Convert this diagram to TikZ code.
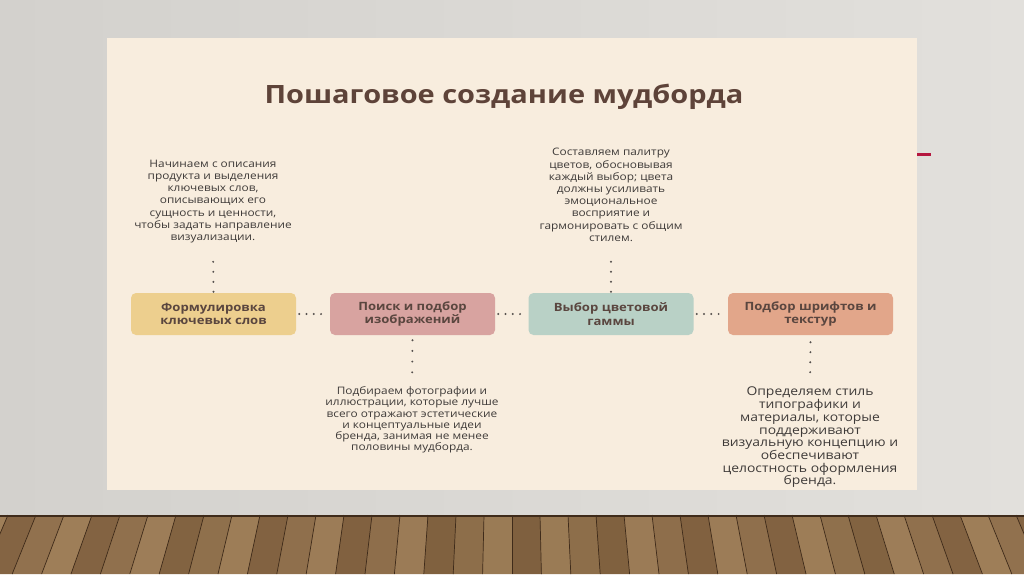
\documentclass[tikz,border=0pt]{standalone}
\usepackage{fontspec}
\setmainfont{Open Sans}[FakeStretch=1.15]
\usetikzlibrary{positioning}
\definecolor{bgleft}{HTML}{D3D1CD}
\definecolor{bgright}{HTML}{E2E0DC}
\definecolor{panel}{HTML}{F8EDDE}
\definecolor{accent}{HTML}{B5173F}
\definecolor{titlebrown}{HTML}{5E4339}
\definecolor{boxtext}{HTML}{5A463F}
\definecolor{notetext}{HTML}{3E3A38}
\definecolor{dotgray}{HTML}{55504D}
\definecolor{step1}{HTML}{EDCF8E}
\definecolor{step2}{HTML}{D8A3A0}
\definecolor{step3}{HTML}{B9D1C6}
\definecolor{step4}{HTML}{E2A68A}
\definecolor{woodlight}{HTML}{AE8E66}
\definecolor{wooddark}{HTML}{654629}
\definecolor{woodline}{HTML}{3F2B1A}

\begin{document}
\begin{tikzpicture}[x=1pt,y=-1pt,
  stepbox/.style={rounded corners=5pt, minimum width=165pt, minimum height=42pt,
    inner sep=0pt, align=center, text=boxtext, font=\bfseries\fontsize{11.4}{13.6}\selectfont},
  note/.style={align=center, inner sep=0pt, text=notetext, font=\fontsize{10.3}{12.2}\selectfont},
  dotline/.style={draw=dotgray, line width=2.2pt, line cap=round, dash pattern=on 0pt off 7.3pt},
  vdotline/.style={dotline, dash pattern=on 0pt off 10pt}]
\useasboundingbox (0,0) rectangle (1024,574);

% Wall and slide
\shade[left color=bgleft, right color=bgright] (0,0) rectangle (1024,516);
\fill[panel] (107,38) rectangle (917,490);
\fill[accent] (917,153) rectangle (931,155.5);

% Floor planks
\fill[wooddark] (0,515) rectangle (1024,574);
\foreach \k in {-20,...,19}{
  \pgfmathtruncatemacro\mix{mod(abs(\k)*37+11,55)+25}
  \fill[woodlight!\mix!wooddark] ({512+\k*28},515) -- ({512+(\k+1)*28},515)
    -- ({512+(\k+1)*28*1.05},574) -- ({512+\k*28*1.05},574) -- cycle;
  \draw[woodline, line width=0.7pt] ({512+\k*28},515) -- ({512+\k*28*1.05},574);
}
\draw[woodline, line width=2pt] (0,516) -- (1024,516);

% Title
\node[text=titlebrown, font=\bfseries\fontsize{25.2}{30}\selectfont] (title) at (504,97)
  {Пошаговое создание мудборда};

% Steps
\node[stepbox, fill=step1] (formul) at (213.5,314) {Формулировка\\ключевых слов};
\node[stepbox, fill=step2] (poisk) at (412.5,314) {Поиск и подбор\\изображений};
\node[stepbox, fill=step3] (vybor) at (611,314) {Выбор цветовой\\гаммы};
\node[stepbox, fill=step4] (shrift) at (810.5,314) {Подбор шрифтов и\\текстур};

% Descriptions
\node[note] (noteformul) at (213,201.5) {Начинаем с описания\\продукта и выделения\\ключевых слов,\\описывающих его\\сущность и ценности,\\чтобы задать направление\\визуализации.};
\node[note] (notevybor) at (611,195) {Составляем палитру\\цветов, обосновывая\\каждый выбор; цвета\\должны усиливать\\эмоциональное\\восприятие и\\гармонировать с общим\\стилем.};
\node[note, font=\fontsize{10.3}{11.2}\selectfont] (notepoisk) at (412,420) {Подбираем фотографии и\\иллюстрации, которые лучше\\всего отражают эстетические\\и концептуальные идеи\\бренда, занимая не менее\\половины мудборда.};
\node[note, font=\fontsize{12.1}{12.7}\selectfont] (noteshrift) at (810,437.5) {Определяем стиль\\типографики и\\материалы, которые\\поддерживают\\визуальную концепцию и\\обеспечивают\\целостность оформления\\бренда.};

% Dotted links
\draw[dotline, shorten >=6pt] ([xshift=3pt]formul.east) -- (poisk.west);
\draw[dotline, shorten >=6pt] ([xshift=3pt]poisk.east) -- (vybor.west);
\draw[dotline, shorten >=6pt] ([xshift=3pt]vybor.east) -- (shrift.west);
\draw[vdotline, shorten >=14pt] ([yshift=1pt]formul.north) -- (noteformul.south);
\draw[vdotline, shorten >=14pt] ([yshift=1pt]vybor.north) -- (notevybor.south);
\draw[vdotline, dash pattern=on 0pt off 10.7pt, shorten >=12pt] ([yshift=-5pt]poisk.south) -- (notepoisk.north);
\draw[vdotline, shorten >=12pt] ([yshift=-7pt]shrift.south) -- (noteshrift.north);
\end{tikzpicture}
\end{document}
